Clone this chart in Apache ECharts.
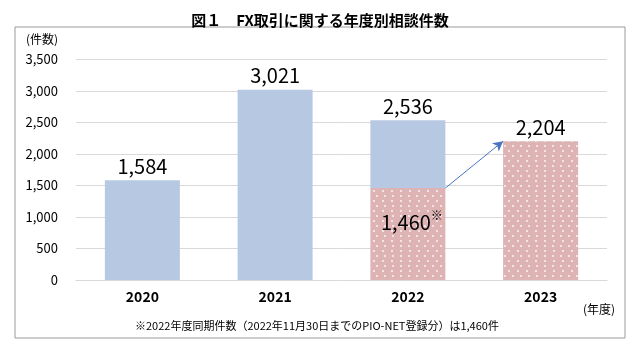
<!DOCTYPE html>
<html>
<head>
<meta charset="utf-8">
<script src="https://cdn.jsdelivr.net/npm/echarts@6/dist/echarts.min.js"></script>
<style>
html,body{margin:0;padding:0;background:#fff;}
#main{width:640px;height:360px;}
</style>
</head>
<body>
<div id="main"></div>
<script>
const categories = ['2020', '2021', '2022', '2023'];
const totals = [1584, 3021, 2536, 2204];
const samePeriod2022 = 1460;
const yTicks = [0, 500, 1000, 1500, 2000, 2500, 3000, 3500];
const titleText = '図１　FX取引に関する年度別相談件数';
const footnote = '※2022年度同期件数（2022年11月30日までのPIO-NET登録分）は1,460件';

const FONT = '"Noto Sans CJK JP", "Noto Sans", sans-serif';
const BAR_W = 75;
const fmt = v => v.toLocaleString('en-US');

// pink (dotted) part: 2022 same-period and 2023
const pinkData = categories.map((c, i) => {
  if (i === 2) {
    return {
      value: samePeriod2022,
      label: {
        show: true, position: 'inside', offset: [4, -12],
        formatter: '{a|' + fmt(samePeriod2022) + '}{s|※}',
        rich: {
          a: {fontSize: 20, fontFamily: FONT, color: '#000'},
          s: {fontSize: 12, fontFamily: FONT, color: '#000', verticalAlign: 'top', padding: [0, 0, 14, 0]}
        }
      }
    };
  }
  if (i === 3) {
    return {value: totals[3], label: {show: true, position: 'top', distance: 4, formatter: fmt(totals[3]), fontSize: 20, fontFamily: FONT, color: '#000'}};
  }
  return null;
});
// blue part: full for 2020/2021, remainder on 2022
const blueData = categories.map((c, i) => {
  if (i === 3) return null;
  const v = i === 2 ? totals[2] - samePeriod2022 : totals[i];
  return {value: v, label: {show: true, position: 'top', distance: 4, formatter: fmt(totals[i]), fontSize: 20, fontFamily: FONT, color: '#000'}};
});

const chart = echarts.init(document.getElementById('main'), null, {renderer: 'canvas'});
const option = {
  animation: false,
  backgroundColor: '#fff',
  title: {
    text: titleText, left: 'center', top: 8,
    textStyle: {fontSize: 15, fontWeight: 'bold', fontFamily: FONT, color: '#000'}
  },
  graphic: [
    {type: 'rect', shape: {x: 15, y: 27, width: 610, height: 311}, style: {fill: 'none', stroke: '#9a9a9a', lineWidth: 1}, z: -1},
    {type: 'text', left: 26, top: 33, style: {text: '(件数)', font: '12px ' + FONT, fill: '#000'}},
    {type: 'text', right: 25, top: 303, style: {text: '(年度)', font: '12px ' + FONT, fill: '#000'}},
    {type: 'text', left: 135, top: 320, style: {text: footnote, font: '11px ' + FONT, fill: '#000'}}
  ],
  grid: {left: 76, right: 33, top: 59.5, bottom: 80, containLabel: false},
  xAxis: {
    type: 'category', data: categories,
    axisLine: {show: true, lineStyle: {color: '#d9d9d9'}},
    axisTick: {show: false},
    axisLabel: {fontSize: 14, fontWeight: 'bold', fontFamily: FONT, color: '#000', margin: 10}
  },
  yAxis: {
    type: 'value', min: yTicks[0], max: yTicks[yTicks.length - 1], interval: 500,
    axisLine: {show: false}, axisTick: {show: false},
    splitLine: {lineStyle: {color: '#d9d9d9'}},
    axisLabel: {fontSize: 13, fontFamily: FONT, color: '#000', margin: 18, formatter: v => fmt(v)}
  },
  series: [
    {
      name: 'pink', type: 'bar', stack: 'total', barWidth: BAR_W, data: pinkData,
      itemStyle: {
        color: '#DDB3B4',
        decal: {
          symbol: 'circle', symbolSize: 1, color: 'rgba(255,255,255,0.85)',
          dashArrayX: [[1.3, 5.7], [0, 3.5, 1.3, 2.2]],
          dashArrayY: [1.3, 2.7]
        }
      }
    },
    {
      name: 'blue', type: 'bar', stack: 'total', barWidth: BAR_W, data: blueData,
      itemStyle: {color: '#B7C8E3'}
    }
  ]
};
chart.setOption(option);

// arrow from top-right of 2022 same-period bar to top-left of 2023 bar
const p1 = chart.convertToPixel({seriesIndex: 0}, [categories[2], samePeriod2022]);
const p2 = chart.convertToPixel({seriesIndex: 0}, [categories[3], totals[3]]);
const half = BAR_W / 2;
chart.setOption({
  series: [{
    name: 'pink',
    markLine: {
      silent: true, animation: false,
      symbol: ['none', 'arrow'], symbolSize: [8, 10],
      label: {show: false},
      lineStyle: {color: '#4A76C0', width: 1, type: 'solid'},
      data: [[{x: p1[0] + half, y: p1[1]}, {x: p2[0] - half, y: p2[1]}]]
    }
  }]
});
</script>
</body>
</html>
